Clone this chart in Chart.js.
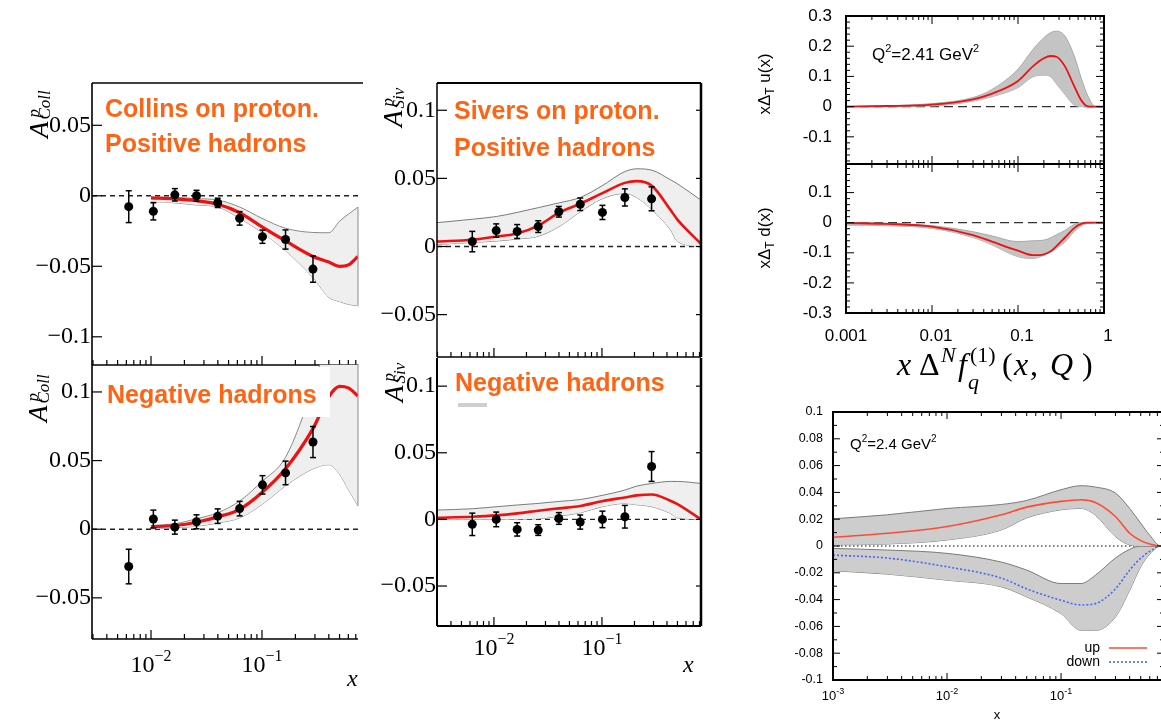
<!DOCTYPE html>
<html>
<head>
<meta charset="utf-8">
<script src="https://cdn.jsdelivr.net/npm/chart.js@4.4.1/dist/chart.umd.min.js"></script>
<style>
html, body { margin: 0; padding: 0; background: #fff; overflow: hidden; width: 1161px; height: 722px; }
canvas { position: absolute; }
</style>
</head>
<body>
<canvas id="cA"></canvas>
<canvas id="cB"></canvas>
<canvas id="cC"></canvas>
<canvas id="cD"></canvas>
<canvas id="cEu"></canvas>
<canvas id="cEd"></canvas>
<canvas id="cF"></canvas>
<script>
// ---- COMPASS proton points (x bins) ----
const binX = [0.0063, 0.0105, 0.0164, 0.0257, 0.0399, 0.0629, 0.101, 0.163, 0.288];

const collPosY   = [-0.0077, -0.011, 0.0007, 0.0, -0.005, -0.016, -0.029, -0.031, -0.052];
const collPosErr = [0.0113, 0.0061, 0.0044, 0.0039, 0.0033, 0.0048, 0.0047, 0.0068, 0.0093];
const collNegY   = [-0.0272, 0.0074, 0.0015, 0.0054, 0.0095, 0.015, 0.0323, 0.041, 0.0635];
const collNegErr = [0.0126, 0.0065, 0.0051, 0.0051, 0.0053, 0.0053, 0.0067, 0.0086, 0.0113];
const sivPosY    = [0.0036, 0.0117, 0.011, 0.0146, 0.0255, 0.031, 0.025, 0.036, 0.035];
const sivPosErr  = [0.0075, 0.0049, 0.0051, 0.0043, 0.0039, 0.0046, 0.0052, 0.0063, 0.0088];
const sivNegY    = [-0.0037, 0.0, -0.0075, -0.008, 0.0007, -0.002, 0.0, 0.002, 0.0397];
const sivNegErr  = [0.0084, 0.0055, 0.005, 0.004, 0.0044, 0.0053, 0.0062, 0.0085, 0.0112];

// ---- Collins fit curves and bands ----
const collGridX  = [0.01, 0.0164, 0.0257, 0.04, 0.063, 0.1, 0.163, 0.288, 0.4, 0.5, 0.6, 0.733];
const collPosFit = [-0.0015, -0.0022, -0.0035, -0.006, -0.012, -0.022, -0.032, -0.043, -0.047, -0.050, -0.049, -0.043];
const collPosHi  = [-0.001, -0.0012, -0.002, -0.003, -0.008, -0.016, -0.023, -0.026, -0.0262, -0.018, -0.013, -0.008];
const collPosLo  = [-0.004, -0.005, -0.0065, -0.008, -0.016, -0.026, -0.039, -0.058, -0.072, -0.075, -0.077, -0.078];
const collNegFit = [0.0017, 0.0027, 0.0051, 0.009, 0.0145, 0.0267, 0.044, 0.0733, 0.0965, 0.104, 0.103, 0.097];
const collNegHi  = [0.0027, 0.004, 0.0076, 0.012, 0.0206, 0.0348, 0.0524, 0.103, 0.14, 0.15, 0.155, 0.16];
const collNegLo  = [0.0002, 0.001, 0.0022, 0.0045, 0.0083, 0.018, 0.0316, 0.044, 0.047, 0.040, 0.029, 0.017];

// ---- Sivers fit curves and bands ----
const sivGridX  = [0.00297, 0.0063, 0.0105, 0.0164, 0.0257, 0.04, 0.063, 0.1, 0.163, 0.21, 0.29, 0.43, 0.5, 0.826];
const sivPosFit = [0.0037, 0.005, 0.0073, 0.0095, 0.0153, 0.0248, 0.0314, 0.039, 0.0467, 0.048, 0.0445, 0.027, 0.0197, 0.002];
const sivPosHi  = [0.0175, 0.02, 0.022, 0.025, 0.0285, 0.032, 0.036, 0.0445, 0.055, 0.057, 0.056, 0.049, 0.046, 0.034];
const sivPosLo  = [0.0015, 0.003, 0.004, 0.0055, 0.0075, 0.0146, 0.0255, 0.035, 0.039, 0.036, 0.027, 0.0124, 0.0037, 0];
const sivNegFit = [0.0012, 0.002, 0.003, 0.0045, 0.0065, 0.0083, 0.0101, 0.0136, 0.0165, 0.018, 0.0187, 0.014, 0.0115, 0];
const sivNegHi  = [0.007, 0.008, 0.0095, 0.0108, 0.012, 0.0135, 0.0149, 0.018, 0.022, 0.025, 0.027, 0.0285, 0.0285, 0.027];
const sivNegLo  = [0, 0, 0, 0.0002, 0.0005, 0.0025, 0.005, 0.0095, 0.012, 0.011, 0.0095, 0.0045, 0.0012, 0];

// ---- transversity x*DeltaT q(x) ----
const trX   = [0.001, 0.003, 0.01, 0.03, 0.05, 0.1, 0.15, 0.2, 0.24, 0.28, 0.35, 0.45, 0.55, 0.65, 0.8, 1];
const trU   = [0, 0.002, 0.0066, 0.024, 0.043, 0.085, 0.134, 0.16, 0.1676, 0.165, 0.134, 0.068, 0.019, 0.001, 0, 0];
const trUHi = [0, 0.003, 0.01, 0.03, 0.057, 0.124, 0.19, 0.228, 0.245, 0.25, 0.234, 0.168, 0.09, 0.035, 0, 0];
const trULo = [0, 0.001, 0.002, 0.018, 0.033, 0.063, 0.099, 0.104, 0.099, 0.075, 0.041, 0.005, 0, 0, 0, 0];
const trD   = [-0.001, -0.004, -0.013, -0.041, -0.063, -0.093, -0.108, -0.105, -0.095, -0.078, -0.05, -0.018, -0.003, 0, 0, 0];
const trDHi = [0, -0.002, -0.01, -0.03, -0.044, -0.063, -0.06, -0.058, -0.05, -0.04, -0.026, -0.006, 0, 0, 0, 0];
const trDLo = [-0.008, -0.01, -0.019, -0.049, -0.074, -0.113, -0.119, -0.108, -0.097, -0.085, -0.065, -0.03, -0.01, -0.002, 0, 0];

// ---- Sivers first moments, up / down ----
const svX     = [0.001, 0.003, 0.01, 0.03, 0.05, 0.1, 0.15, 0.2, 0.3, 0.4, 0.5, 0.6, 0.75, 0.8];
const svUp    = [0.0065, 0.0095, 0.0145, 0.0233, 0.029, 0.0333, 0.0345, 0.0325, 0.022, 0.0095, 0.004, 0.0015, 0, 0];
const svUpHi  = [0.0203, 0.0233, 0.028, 0.031, 0.034, 0.042, 0.045, 0.044, 0.0395, 0.028, 0.017, 0.008, 0, 0];
const svUpLo  = [0.0008, 0.0015, 0.0045, 0.012, 0.021, 0.027, 0.028, 0.023, 0.007, 0.0008, 0, 0, 0, 0];
const svDn    = [-0.0068, -0.009, -0.0155, -0.024, -0.032, -0.0405, -0.044, -0.043, -0.032, -0.018, -0.009, -0.004, 0, 0];
const svDnHi  = [-0.0018, -0.003, -0.0055, -0.012, -0.018, -0.028, -0.028, -0.0218, -0.009, -0.0025, 0, 0, 0, 0];
const svDnLo  = [-0.0185, -0.021, -0.0255, -0.0305, -0.038, -0.0505, -0.063, -0.063, -0.053, -0.033, -0.0155, -0.006, 0, 0];

// ---- tick labels ----
const collPosTicks = [0.05, 0, -0.05, -0.1];
const collPosTickLabels = ['0.05', '0', '\u22120.05', '\u22120.1'];
const asymTicks = [0.1, 0.05, 0, -0.05];
const asymTickLabels = ['0.1', '0.05', '0', '\u22120.05'];
const trUTicks = [0.3, 0.2, 0.1, 0, -0.1];
const trDTicks = [0.1, 0, -0.1, -0.2, -0.3];
const trXTicks = [0.001, 0.01, 0.1, 1];
const trXTickLabels = ['0.001', '0.01', '0.1', '1'];
const svTicks = [0.1, 0.08, 0.06, 0.04, 0.02, 0, -0.02, -0.04, -0.06, -0.08, -0.1];
const pow10Ticks = [0.001, 0.01, 0.1];
const pow10Exps = ['-3', '-2', '-1'];

const SERIF = '"Liberation Serif", "DejaVu Serif", serif';
const SANS = '"Liberation Sans", Arial, sans-serif';
const ORANGE = '#ff6414';
const RED = '#ee1111';

// ---- helpers ----
function pts(xs, ys) { return xs.map((x, i) => ({ x: x, y: ys[i] })); }

function line(ctx, x1, y1, x2, y2) { ctx.beginPath(); ctx.moveTo(x1, y1); ctx.lineTo(x2, y2); ctx.stroke(); }

function text(ctx, s, x, y, font, align, base, color) {
  ctx.font = font; ctx.textAlign = align || 'left'; ctx.textBaseline = base || 'alphabetic';
  ctx.fillStyle = color || '#000'; ctx.fillText(s, x, y);
}

function logTicks(min, max) {
  const out = [];
  for (let e = Math.floor(Math.log10(min)); e <= Math.ceil(Math.log10(max)); e++) {
    for (let m = 1; m < 10; m++) {
      const v = m * Math.pow(10, e);
      if (v >= min * 0.999 && v <= max * 1.001) out.push({ v: v, major: m === 1 });
    }
  }
  return out;
}

function linTicks(min, max, step) {
  const out = [];
  for (let k = Math.ceil(min / step - 1e-6); k * step <= max + 1e-9; k++) out.push(k * step);
  return out;
}

function powLabel(ctx, cx, y, exp, big, small, rise, fam) {
  ctx.font = big + 'px ' + fam; const w1 = ctx.measureText('10').width;
  ctx.font = small + 'px ' + fam; const w2 = ctx.measureText(exp).width;
  const x0 = cx - (w1 + w2) / 2;
  text(ctx, '10', x0, y, big + 'px ' + fam);
  text(ctx, exp, x0 + w1, y - rise, small + 'px ' + fam);
}

function asymLabel(ctx, x, y, sub) {
  ctx.save(); ctx.translate(x, y); ctx.rotate(-Math.PI / 2);
  text(ctx, 'A', 0, 0, 'italic 27px ' + SERIF);
  const w = ctx.measureText('A').width;
  text(ctx, 'p', w + 4, -9, 'italic 17px ' + SERIF);
  text(ctx, sub, w + 2, 2, 'italic 17px ' + SERIF);
  ctx.restore();
}

function pdfLabel(ctx, cx, cy, q) {
  ctx.save(); ctx.translate(cx, cy); ctx.rotate(-Math.PI / 2);
  const f = '17px ' + SANS, fs = '12px ' + SANS;
  ctx.font = f; const w1 = ctx.measureText('x\u0394').width; const w3 = ctx.measureText(' ' + q + '(x)').width;
  ctx.font = fs; const w2 = ctx.measureText('T').width;
  const x0 = -(w1 + w2 + w3) / 2;
  text(ctx, 'x\u0394', x0, 0, f);
  text(ctx, 'T', x0 + w1, 4, fs);
  text(ctx, ' ' + q + '(x)', x0 + w1 + w2, 0, f);
  ctx.restore();
}

function qLabel(ctx, x, y, val, size) {
  const f = size + 'px ' + SANS, fs = Math.round(size * 0.65) + 'px ' + SANS;
  const rise = Math.round(size * 0.45);
  text(ctx, 'Q', x, y, f); x += ctx.measureText('Q').width;
  text(ctx, '2', x, y - rise, fs); x += ctx.measureText('2').width;
  text(ctx, '=' + val + ' GeV', x, y, f); x += ctx.measureText('=' + val + ' GeV').width;
  text(ctx, '2', x, y - rise, fs);
}

function bandSets(xs, hi, lo, fillColor, edgeColor, edgeWidth) {
  return [
    { data: pts(xs, hi), borderColor: edgeColor, borderWidth: edgeWidth, backgroundColor: fillColor,
      fill: '+1', cubicInterpolationMode: 'monotone', pointRadius: 0 },
    { data: pts(xs, lo), borderColor: edgeColor, borderWidth: edgeWidth, backgroundColor: fillColor,
      fill: false, cubicInterpolationMode: 'monotone', pointRadius: 0 }
  ];
}

function curveSet(xs, ys, color, width, dash) {
  return { data: pts(xs, ys), borderColor: color, borderWidth: width, borderDash: dash || [],
    fill: false, cubicInterpolationMode: 'monotone', pointRadius: 0 };
}

function pointSet(ys, errs) {
  return { data: pts(binX, ys), showLine: false, pointRadius: 4.5, pointBackgroundColor: '#000',
    pointBorderColor: '#000', pointBorderWidth: 0, errs: errs };
}

function drawErrors(chart, ctx, X, Y) {
  chart.data.datasets.forEach(ds => {
    if (!ds.errs) return;
    ctx.strokeStyle = '#000'; ctx.lineWidth = 1.5;
    ds.data.forEach((p, i) => {
      const x = X(p.x), y1 = Y(p.y + ds.errs[i]), y2 = Y(p.y - ds.errs[i]);
      line(ctx, x, y1, x, y2);
      line(ctx, x - 3, y1, x + 3, y1);
      line(ctx, x - 3, y2, x + 3, y2);
    });
  });
}

function makeChart(id, box, plot, xr, yr, datasets, drawFn) {
  const cv = document.getElementById(id);
  cv.width = box[2]; cv.height = box[3];
  cv.style.left = box[0] + 'px'; cv.style.top = box[1] + 'px';
  cv.style.width = box[2] + 'px'; cv.style.height = box[3] + 'px';
  const run = (chart, layer) => {
    const ctx = chart.ctx;
    const X = v => chart.scales.x.getPixelForValue(v) + box[0];
    const Y = v => chart.scales.y.getPixelForValue(v) + box[1];
    ctx.save(); ctx.translate(-box[0], -box[1]);
    if (layer === 'over') drawErrors(chart, ctx, X, Y);
    drawFn(ctx, X, Y, layer);
    ctx.restore();
  };
  return new Chart(cv, {
    type: 'line',
    data: { datasets: datasets },
    options: {
      responsive: false,
      animation: false,
      events: [],
      layout: { padding: { left: plot[0] - box[0], top: plot[1] - box[1],
        right: box[0] + box[2] - plot[2], bottom: box[1] + box[3] - plot[3] } },
      scales: {
        x: { type: 'logarithmic', min: xr[0], max: xr[1], display: false },
        y: { type: 'linear', min: yr[0], max: yr[1], display: false }
      },
      plugins: { legend: { display: false }, tooltip: { enabled: false } }
    },
    plugins: [{ id: 'deco', beforeDatasetsDraw: c => run(c, 'under'), afterDatasetsDraw: c => run(c, 'over') }]
  });
}

// ROOT-style asymmetry panels
function rootDeco(o) {
  return (ctx, X, Y, layer) => {
    const l = o.plot[0], t = o.plot[1], r = o.plot[2], b = o.plot[3];
    if (layer === 'under') {
      ctx.strokeStyle = '#222'; ctx.lineWidth = 1.4; ctx.setLineDash([5, 4]);
      line(ctx, l, Y(0), r, Y(0)); ctx.setLineDash([]);
      return;
    }
    if (o.edge) {
      ctx.strokeStyle = '#8a8a8a'; ctx.lineWidth = 1;
      line(ctx, X(o.edge[0]), Math.max(Y(o.edge[1]), t), X(o.edge[0]), Y(o.edge[2]));
    }
    if (o.smudge) { ctx.strokeStyle = '#cfcfcf'; ctx.lineWidth = 4; line(ctx, o.smudge[0], o.smudge[1], o.smudge[2], o.smudge[1]); }
    if (o.whiteBox) { ctx.fillStyle = '#fff'; ctx.fillRect(o.whiteBox[0], o.whiteBox[1], o.whiteBox[2], o.whiteBox[3]); }
    ctx.strokeStyle = '#000';
    o.frame.forEach(f => { ctx.lineWidth = f[4]; line(ctx, f[0], f[1], f[2], f[3]); });
    ctx.lineWidth = 1.2;
    logTicks(o.xr[0], o.xr[1]).forEach(tk => line(ctx, X(tk.v), b, X(tk.v), b - (tk.major ? 9 : 5)));
    o.yTicks.forEach((v, i) => {
      ctx.lineWidth = 1.2; ctx.strokeStyle = '#000';
      line(ctx, l, Y(v), l + 10, Y(v));
      if (o.rightTicks) line(ctx, r, Y(v), r - 5, Y(v));
      text(ctx, o.yLabels[i], o.labelX, Y(v), '24px ' + SERIF, 'right', 'middle');
    });
    if (o.xLabelY) {
      powLabel(ctx, X(0.01), o.xLabelY, '\u22122', 24, 16, 11, SERIF);
      powLabel(ctx, X(0.1), o.xLabelY, '\u22121', 24, 16, 11, SERIF);
      text(ctx, 'x', o.xName[0], o.xName[1], 'italic 24px ' + SERIF);
    }
    asymLabel(ctx, o.axisPos[0], o.axisPos[1], o.sub);
    o.title.forEach(tl => text(ctx, tl[0], tl[1], tl[2], 'bold 25px ' + SANS, 'left', 'alphabetic', ORANGE));
  };
}

// gnuplot-style transversity panels
function trDeco(o) {
  return (ctx, X, Y, layer) => {
    const l = o.plot[0], t = o.plot[1], r = o.plot[2], b = o.plot[3];
    if (layer === 'under') {
      ctx.strokeStyle = '#333'; ctx.lineWidth = 1.2; ctx.setLineDash([9, 5]);
      line(ctx, l, Y(0), r, Y(0)); ctx.setLineDash([]);
      return;
    }
    ctx.strokeStyle = '#000'; ctx.lineWidth = 2;
    ctx.strokeRect(l, t, r - l, b - t);
    ctx.lineWidth = 1;
    linTicks(o.yr[0], o.yr[1], 0.02).forEach(v => {
      const major = Math.abs(v * 10 - Math.round(v * 10)) < 1e-6;
      const len = major ? 8 : 4;
      line(ctx, l, Y(v), l + len, Y(v));
      line(ctx, r, Y(v), r - len, Y(v));
    });
    logTicks(o.xr[0], o.xr[1]).forEach(tk => {
      const len = tk.major ? 8 : 4;
      line(ctx, X(tk.v), t, X(tk.v), t + len);
      line(ctx, X(tk.v), b, X(tk.v), b - len);
    });
    o.yTicks.forEach(v => text(ctx, String(Math.round(v * 10) / 10), 832, Y(v), '17px ' + SANS, 'right', 'middle'));
    pdfLabel(ctx, 770, o.labelY, o.q);
    if (o.q === 'u') qLabel(ctx, 872, 60, '2.41', 17);
    if (o.bottomLabels) {
      trXTicks.forEach((v, i) => text(ctx, trXTickLabels[i], X(v) + (i === 0 ? 0 : 4), 341, '17px ' + SANS, 'center'));
      const f = 'italic 32px ' + SERIF, fu = '32px ' + SERIF, fs = 'italic 22px ' + SERIF, fsu = '22px ' + SERIF;
      text(ctx, 'x', 897, 375, f);
      text(ctx, '\u0394', 919, 375, fu);
      text(ctx, 'N', 941, 362, fs);
      text(ctx, 'f', 958, 375, f);
      text(ctx, '(1)', 970, 362, fsu);
      text(ctx, 'q', 968, 389, fs);
      text(ctx, '(', 1002, 375, fu);
      text(ctx, 'x', 1014, 375, f);
      text(ctx, ',', 1030, 375, fu);
      text(ctx, 'Q', 1050, 375, f);
      text(ctx, ')', 1082, 375, fu);
    }
  };
}

// gnuplot-style Sivers up/down panel
function svDeco(o) {
  return (ctx, X, Y, layer) => {
    const l = o.plot[0], t = o.plot[1], r = o.plot[2], b = o.plot[3];
    if (layer === 'under') {
      ctx.strokeStyle = '#000'; ctx.lineWidth = 1; ctx.setLineDash([1.5, 2.5]);
      line(ctx, l, Y(0), r, Y(0)); ctx.setLineDash([]);
      return;
    }
    ctx.strokeStyle = '#000'; ctx.lineWidth = 2;
    ctx.strokeRect(l, t, r - l, b - t);
    ctx.lineWidth = 1;
    linTicks(-0.1, 0.1, 0.01).forEach(v => {
      const major = Math.abs(v * 50 - Math.round(v * 50)) < 1e-6;
      const len = major ? 7 : 4;
      line(ctx, l, Y(v), l + len, Y(v));
      line(ctx, r, Y(v), r - len, Y(v));
    });
    logTicks(o.xr[0], o.xr[1]).forEach(tk => {
      const len = tk.major ? 7 : 4;
      line(ctx, X(tk.v), t, X(tk.v), t + len);
      line(ctx, X(tk.v), b, X(tk.v), b - len);
    });
    svTicks.forEach(v => {
      const s = v === 0 ? '0' : String(Math.round(v * 100) / 100);
      text(ctx, s, 823, Y(v), '12.5px ' + SANS, 'right', 'middle');
    });
    pow10Ticks.forEach((v, i) => powLabel(ctx, X(v), 700, pow10Exps[i], 13, 9, 6, SANS));
    text(ctx, 'x', 997, 719, '13px ' + SANS, 'center');
    qLabel(ctx, 850, 449, '2.4', 15);
    text(ctx, 'up', 1100, 652, '14px ' + SANS, 'right');
    text(ctx, 'down', 1100, 666, '14px ' + SANS, 'right');
    ctx.strokeStyle = '#ff4b33'; ctx.lineWidth = 1.6; line(ctx, 1109, 648, 1147, 648);
    ctx.strokeStyle = '#4466ff'; ctx.setLineDash([2, 2]); line(ctx, 1109, 662, 1147, 662); ctx.setLineDash([]);
  };
}

// ---- panel A: Collins, positive hadrons ----
const xrColl = [0.00294, 0.733];
makeChart('cA', [0, 60, 372, 315], [92, 83, 358, 365], xrColl, [-0.12, 0.08], [
  pointSet(collPosY, collPosErr),
  curveSet(collGridX, collPosFit, RED, 3.2),
  ...bandSets(collGridX, collPosHi, collPosLo, '#efefef', '#8a8a8a', 1)
], rootDeco({
  plot: [92, 83, 358, 365], xr: xrColl,
  frame: [[92, 83, 92, 365, 1.6], [92, 83, 363, 83, 1.6], [92, 365, 358, 365, 1.6]],
  yTicks: collPosTicks, yLabels: collPosTickLabels, labelX: 91,
  edge: [collGridX[collGridX.length - 1], collPosHi[collPosHi.length - 1], collPosLo[collPosLo.length - 1]],
  axisPos: [48, 138], sub: 'Coll',
  title: [['Collins on proton.', 105, 117], ['Positive hadrons', 105, 152]]
}));

// ---- panel B: Collins, negative hadrons ----
makeChart('cB', [0, 360, 372, 340], [92, 364, 358, 639], xrColl, [-0.08, 0.12], [
  pointSet(collNegY, collNegErr),
  curveSet(collGridX, collNegFit, RED, 3.2),
  ...bandSets(collGridX, collNegHi, collNegLo, '#efefef', '#8a8a8a', 1)
], rootDeco({
  plot: [92, 364, 358, 639], xr: xrColl,
  frame: [[92, 364, 92, 639, 1.6], [92, 639, 358, 639, 1.6]],
  yTicks: asymTicks, yLabels: asymTickLabels, labelX: 91,
  edge: [collGridX[collGridX.length - 1], collNegHi[collNegHi.length - 1], collNegLo[collNegLo.length - 1]],
  whiteBox: [100, 367, 230, 50],
  xLabelY: 672, xName: [347, 686],
  axisPos: [47, 422], sub: 'Coll',
  title: [['Negative hadrons', 107, 403]]
}));

// ---- panel C: Sivers, positive hadrons ----
const xrSiv = [0.00297, 0.826];
makeChart('cC', [370, 40, 345, 320], [437, 83, 701, 357], xrSiv, [-0.08, 0.12], [
  pointSet(sivPosY, sivPosErr),
  curveSet(sivGridX, sivPosFit, RED, 2.6),
  ...bandSets(sivGridX, sivPosHi, sivPosLo, '#efefef', '#7a7a7a', 1)
], rootDeco({
  plot: [437, 83, 701, 357], xr: xrSiv,
  frame: [[437, 83, 437, 357, 1.5], [437, 83, 701, 83, 2], [701, 83, 701, 357, 2.5], [437, 357, 701, 357, 1.5]],
  yTicks: asymTicks, yLabels: asymTickLabels, labelX: 436, rightTicks: true,
  axisPos: [402, 127], sub: 'Siv',
  title: [['Sivers on proton.', 454, 119], ['Positive hadrons', 454, 156]]
}));

// ---- panel D: Sivers, negative hadrons ----
makeChart('cD', [370, 355, 345, 335], [437, 358, 701, 626], xrSiv, [-0.08, 0.12], [
  pointSet(sivNegY, sivNegErr),
  curveSet(sivGridX, sivNegFit, RED, 2.6),
  ...bandSets(sivGridX, sivNegHi, sivNegLo, '#efefef', '#7a7a7a', 1)
], rootDeco({
  plot: [437, 358, 701, 626], xr: xrSiv,
  frame: [[437, 358, 437, 626, 2], [437, 626, 701, 626, 2], [701, 358, 701, 626, 2.5]],
  yTicks: asymTicks, yLabels: asymTickLabels, labelX: 436, rightTicks: true,
  smudge: [458, 405, 487],
  xLabelY: 655, xName: [683, 672],
  axisPos: [403, 402], sub: 'Siv',
  title: [['Negative hadrons', 455, 391]]
}));

// ---- panel E: transversity u and d ----
const xrTr = [0.001, 1];
makeChart('cEu', [740, 0, 421, 172], [846, 16, 1104, 164], xrTr, [-0.19, 0.3], [
  curveSet(trX, trU, RED, 1.8),
  ...bandSets(trX, trUHi, trULo, '#c4c4c4', '#a8a8a8', 1)
], trDeco({ plot: [846, 16, 1104, 164], xr: xrTr, yr: [-0.19, 0.3], yTicks: trUTicks, labelY: 84, q: 'u' }));

makeChart('cEd', [740, 160, 421, 240], [846, 164, 1104, 313], xrTr, [-0.3, 0.195], [
  curveSet(trX, trD, RED, 1.8),
  ...bandSets(trX, trDHi, trDLo, '#c4c4c4', '#a8a8a8', 1)
], trDeco({ plot: [846, 164, 1104, 313], xr: xrTr, yr: [-0.3, 0.195], yTicks: trDTicks, labelY: 238, q: 'd', bottomLabels: true }));

// ---- panel F: Sivers up / down ----
const xrSv = [0.001, 0.8];
makeChart('cF', [760, 400, 410, 322], [833, 412, 1164, 680], xrSv, [-0.1, 0.1], [
  curveSet(svX, svUp, '#ff4b33', 1.6),
  curveSet(svX, svDn, '#4466ff', 1.6, [2, 2]),
  ...bandSets(svX, svUpHi, svUpLo, '#cdcdcd', '#7a7a7a', 1),
  ...bandSets(svX, svDnHi, svDnLo, '#cdcdcd', '#7a7a7a', 1)
], svDeco({ plot: [833, 412, 1164, 680], xr: xrSv }));
</script>
</body>
</html>
